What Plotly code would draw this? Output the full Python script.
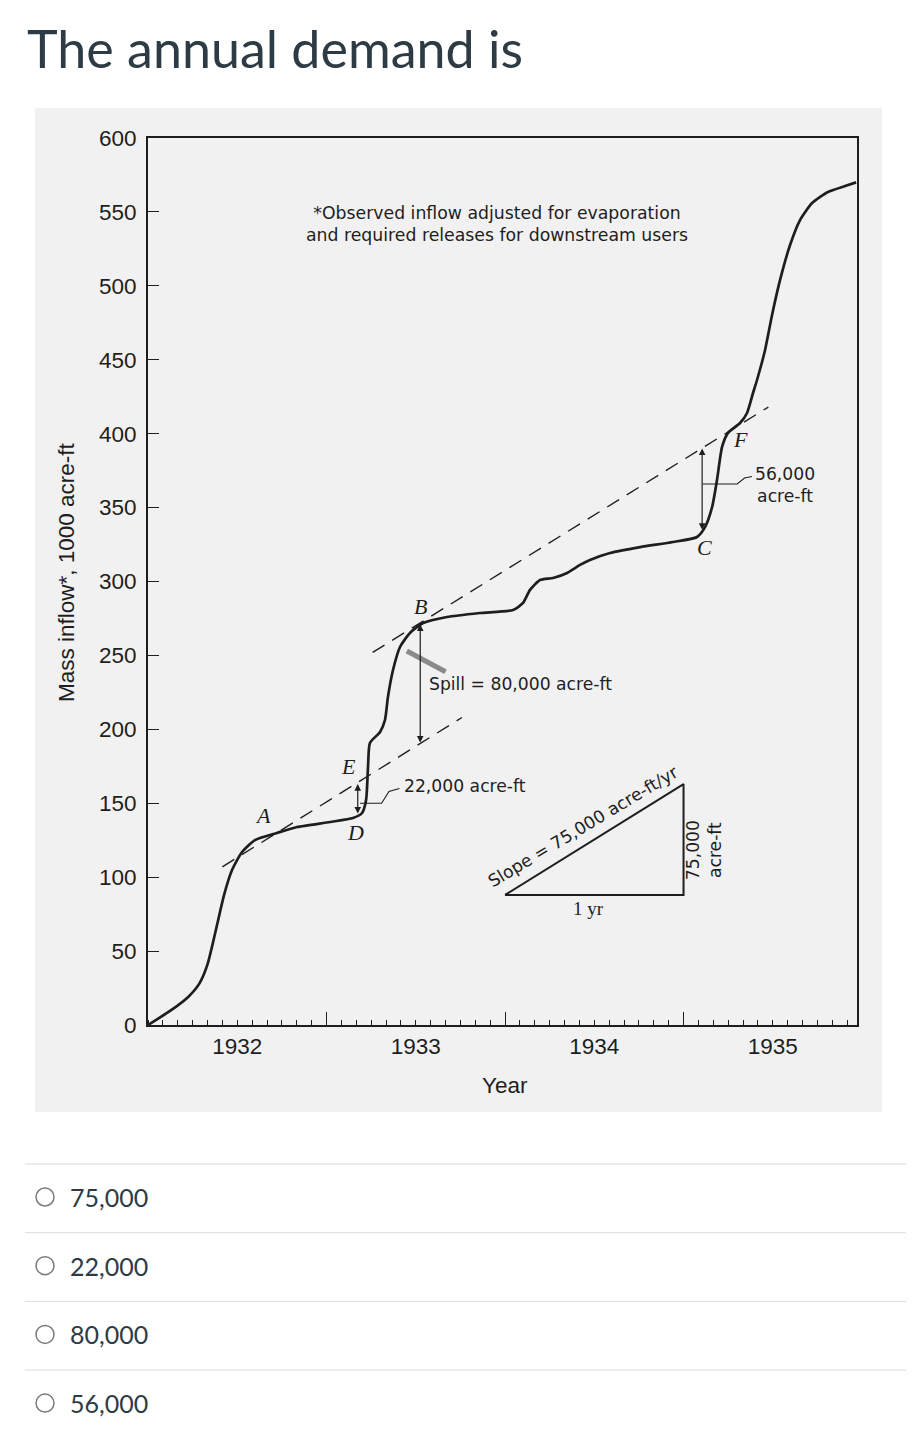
import plotly.graph_objects as go

# ---------------- data ----------------
question = "The annual demand is"
options = ["75,000", "22,000", "80,000", "56,000"]

year_labels = ["1932", "1933", "1934", "1935"]
year_label_pos = [6, 18, 30, 42]          # months from start of 1932
year_bounds = [12, 24, 36]

# mass inflow curve (months since Jan 1932, 1000 acre-ft)
months = [0, 1.48, 2.7, 3.45, 4.0, 4.64, 5.11, 5.65, 6.32, 7.19, 8.67, 10.02,
          12.24, 13.78, 14.39, 14.66, 14.79, 14.92, 15.60, 15.93, 16.13, 16.47,
          16.94, 17.61, 18.49, 20.10, 22.32, 24.54, 25.21, 25.68, 26.35, 27.23,
          28.17, 29.04, 29.71, 31.06, 33.08, 35.29, 36.91, 37.45, 37.92, 38.25,
          38.59, 38.99, 39.80, 40.27, 40.67, 40.94, 41.48, 41.95, 42.49, 43.16,
          43.83, 44.64, 45.71, 46.86, 47.6]
mass = [0, 9.5, 19.0, 28.0, 41.0, 67.6, 87.9, 104.8, 117.0, 125.1, 129.9, 133.9,
        137.3, 140.0, 143.4, 152.2, 174.5, 190.8, 198.2, 206.3, 221.9, 240.1,
        255.7, 265.2, 271.9, 276.0, 278.7, 280.7, 285.5, 294.3, 301.0, 302.4,
        305.8, 311.2, 314.6, 319.3, 323.3, 326.7, 330.1, 336.9, 350.4, 368.7,
        391.0, 400.5, 407.2, 414.0, 427.5, 436.3, 456.6, 480.3, 504.0, 527.6,
        544.5, 556.0, 563.5, 567.5, 570.0]

# demand lines (slope 75,000 acre-ft/yr)
demand1_m = [5.0, 21.1]
demand1_v = [107, 208]
demand2_m = [15.1, 41.7]
demand2_v = [252, 418]

# slope triangle
tri_m = [24, 36, 36, 24]
tri_v = [88, 88, 163, 88]

# leader lines
lead22_m = [14.25, 15.7, 16.2, 16.9]
lead22_v = [150, 150, 158, 160]
lead56_m = [37.3, 39.6, 40.1, 40.6]
lead56_v = [366, 366, 370, 371]

# spill wedge
spill_m = [17.4, 20.0]
spill_v = [253, 239]

# double arrows: (x, top, bottom)
arrows = [(18.3, 271, 190), (14.1, 163, 142), (37.25, 390, 334)]

# point labels
point_names = ["A", "B", "C", "D", "E", "F"]
point_m = [7.73, 18.29, 37.38, 13.92, 13.51, 39.8]
point_v = [142, 283, 323, 130, 175, 396]

# ---------------- figure ----------------
# target-page pixel geometry; the html body adds an 8px margin
OFF = 8
L, R, T, B = 148, 857, 138, 1025
W, H = 914, 1448


def px(x):
    return (x - L) / (R - L)


def py(y):
    return (B - y) / (B - T)


INK = "#1e1e1e"
SANS = "Liberation Sans, Arial, sans-serif"
SCAN = "DejaVu Sans, Verdana, sans-serif"
SERIF = "Liberation Serif, Times New Roman, serif"
CANVAS = "#2D3B45"

fig = go.Figure()

fig.add_trace(go.Scatter(x=months, y=mass, mode="lines",
                         line=dict(color=INK, width=2.7, shape="spline", smoothing=0.6),
                         hoverinfo="skip"))
for xm, yv in [(demand1_m, demand1_v), (demand2_m, demand2_v)]:
    fig.add_trace(go.Scatter(x=xm, y=yv, mode="lines",
                             line=dict(color=INK, width=1.4, dash="14px,9px"),
                             hoverinfo="skip"))
fig.add_trace(go.Scatter(x=tri_m, y=tri_v, mode="lines",
                         line=dict(color=INK, width=2), hoverinfo="skip"))
for xm, yv in [(lead22_m, lead22_v), (lead56_m, lead56_v)]:
    fig.add_trace(go.Scatter(x=xm, y=yv, mode="lines",
                             line=dict(color=INK, width=1.1), hoverinfo="skip"))
fig.add_trace(go.Scatter(x=spill_m, y=spill_v, mode="lines",
                         line=dict(color="#8a8a8a", width=5), hoverinfo="skip"))
# invisible trace for the boundary-tick axis
fig.add_trace(go.Scatter(x=[0, 47.66], y=[0, 0], xaxis="x2", mode="lines",
                         line=dict(width=0), hoverinfo="skip", showlegend=False))

ann = []
for xa, top, bot in arrows:
    ann.append(dict(x=xa, y=top, ax=xa, ay=bot, xref="x", yref="y", axref="x", ayref="y",
                    showarrow=True, arrowhead=2, arrowside="end+start", arrowsize=1.1,
                    arrowwidth=1.2, arrowcolor=INK, standoff=0, startstandoff=0, text=""))

for n, xm, yv in zip(point_names, point_m, point_v):
    ann.append(dict(x=xm, y=yv, xref="x", yref="y", xanchor="center", text=f"<i>{n}</i>",
                    showarrow=False, font=dict(family=SERIF, size=22, color=INK)))

txt = dict(family=SCAN, size=17.2, color=INK)
ann += [
    dict(x=18.76, y=231, xref="x", yref="y", xanchor="left", text="Spill = 80,000 acre-ft",
         showarrow=False, font=txt),
    dict(x=17.1, y=161.5, xref="x", yref="y", xanchor="left", text="22,000 acre-ft",
         showarrow=False, font=txt),
    dict(x=42.85, y=365, xref="x", yref="y", xanchor="center", text="56,000<br>acre-ft",
         showarrow=False, font=txt),
    dict(x=29.3, y=134.5, xref="x", yref="y", xanchor="center",
         text="Slope = 75,000 acre-ft/yr", textangle=-31, showarrow=False, font=txt),
    dict(x=29.6, y=78.5, xref="x", yref="y", xanchor="center", text="1 yr",
         showarrow=False, font=dict(family=SERIF, size=19, color=INK)),
    dict(x=37.35, y=118, xref="x", yref="y", xanchor="center", text="75,000<br>acre-ft",
         textangle=-90, showarrow=False, font=txt),
    dict(x=23.45, y=542, xref="x", yref="y", xanchor="center",
         text="*Observed inflow adjusted for evaporation<br>and required releases for downstream users",
         showarrow=False, font=dict(family=SCAN, size=17.3, color=INK)),
    dict(x=px(66), y=py(572), xref="paper", yref="paper", xanchor="center",
         yanchor="middle", text="Mass inflow*, 1000 acre-ft", textangle=-90,
         showarrow=False, font=dict(family=SANS, size=22.5, color=INK)),
    dict(x=px(505), y=py(1085), xref="paper", yref="paper", xanchor="center",
         yanchor="middle", text="Year", showarrow=False,
         font=dict(family=SANS, size=22.5, color=INK)),
    dict(x=px(25), y=py(48), xref="paper", yref="paper", xanchor="left", yanchor="middle",
         text=question, showarrow=False, font=dict(family="Lato", size=52, color=CANVAS)),
]

shapes = [dict(type="rect", xref="paper", yref="paper", x0=px(35), x1=px(882),
               y0=py(1112), y1=py(108), fillcolor="#f1f1f1", line=dict(width=0),
               layer="below")]

opt_y0, opt_step = 1197, 68.7
for i, o in enumerate(options):
    yc = opt_y0 + i * opt_step
    shapes.append(dict(type="line", xref="paper", yref="paper", x0=px(25), x1=px(914),
                       y0=py(yc - 33), y1=py(yc - 33), line=dict(color="#dcdcdc", width=1)))
    shapes.append(dict(type="circle", xref="paper", yref="paper", x0=px(36), x1=px(54),
                       y0=py(yc + 9), y1=py(yc - 9), line=dict(color="#7b7b7b", width=1.5)))
    ann.append(dict(x=px(68), y=py(yc), xref="paper", yref="paper", xanchor="left",
                    yanchor="middle", text=o, showarrow=False,
                    font=dict(family="Lato", size=25, color=CANVAS)))

fig.update_layout(
    width=W - OFF, height=H - OFF, showlegend=False,
    margin=dict(l=L - OFF, r=W - R, t=T - OFF, b=H - B, pad=0),
    paper_bgcolor="white", plot_bgcolor="rgba(0,0,0,0)",
    annotations=ann, shapes=shapes,
    xaxis=dict(range=[0, 47.66], tickvals=year_label_pos, ticktext=year_labels,
               ticks="", showline=True, linecolor=INK, linewidth=2, mirror=True,
               showgrid=False, zeroline=False, ticklabelstandoff=0,
               tickfont=dict(family=SANS, size=22.5, color=INK),
               minor=dict(tickmode="linear", tick0=0, dtick=1, ticks="inside",
                          ticklen=5, tickwidth=1, tickcolor=INK, showgrid=False)),
    xaxis2=dict(range=[0, 47.66], overlaying="x", anchor="y", side="bottom",
                tickvals=year_bounds, ticks="inside", ticklen=13, tickwidth=1.2,
                tickcolor=INK, showticklabels=False, showline=False, showgrid=False,
                zeroline=False),
    yaxis=dict(range=[0, 600], dtick=50, tick0=0, ticks="inside", ticklen=11,
               tickwidth=1.3, tickcolor=INK, showline=True, linecolor=INK, linewidth=2,
               mirror=True, showgrid=False, zeroline=False, ticklabelstandoff=5,
               tickfont=dict(family=SANS, size=22.5, color=INK)),
)

fig.write_html("out.html")
